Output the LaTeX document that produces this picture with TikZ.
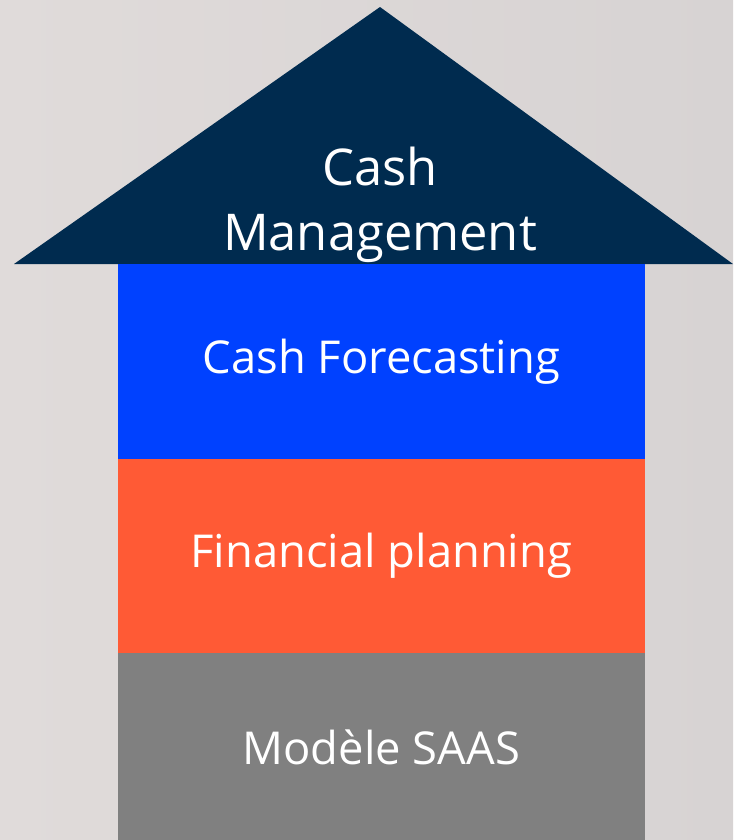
\documentclass[tikz,border=0pt]{standalone}
\usepackage{fontspec}
\setmainfont{Open Sans}
\definecolor{bgleft}{HTML}{E0DBDA}
\definecolor{bgright}{HTML}{D7D3D3}
\definecolor{roofnavy}{HTML}{002B4F}
\definecolor{forecastblue}{HTML}{0041FF}
\definecolor{planorange}{HTML}{FF5A35}
\definecolor{saasgray}{HTML}{808080}
\tikzset{
  layer/.style={fill=#1, draw=#1, line width=0.5pt, minimum width=526*0.75pt, inner sep=0pt,
    text=white, font=\fontsize{34}{40}\selectfont},
}
\begin{document}
\begin{tikzpicture}[x=0.75pt, y=-0.75pt]
    \shade [left color=bgleft, right color=bgright] (0, 0) rectangle (733, 840);
    \useasboundingbox (0, 0) rectangle (733, 840);
    % roof
    \fill [roofnavy] (14, 264) -- (380, 7) -- (733, 264) -- cycle;
    \node [text=white, align=center, font=\fontsize{38}{49}\selectfont] (roof) at (380, 205) {Cash\\Management};
    % layers
    \node [layer=forecastblue, minimum height=194*0.75pt, anchor=north west] (forecast) at (118, 264) {Cash Forecasting};
    \node [layer=planorange, minimum height=194*0.75pt, anchor=north] (planning) at (forecast.south) {Financial planning};
    \node [layer=saasgray, minimum height=188*0.75pt, anchor=north] (saas) at (planning.south) {Modèle SAAS};
  \end{tikzpicture}
\end{document}
